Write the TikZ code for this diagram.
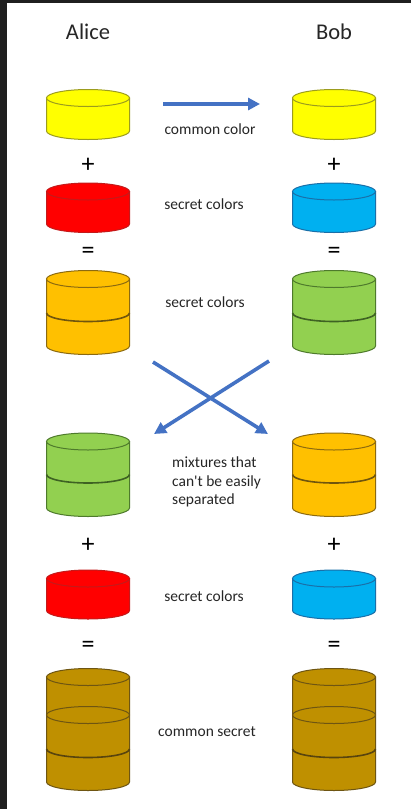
\documentclass[tikz,border=0pt]{standalone}
\usepackage{fontspec}
\setmainfont{Carlito}[Ligatures=TeXOff]
\usetikzlibrary{arrows.meta}
\definecolor{cYel}{HTML}{FFFF00}\definecolor{dYel}{HTML}{9C9C1E}
\definecolor{cRed}{HTML}{FF0000}\definecolor{dRed}{HTML}{C41A1A}
\definecolor{cBlu}{HTML}{00B0F0}\definecolor{dBlu}{HTML}{1A6FA8}
\definecolor{cOra}{HTML}{FFC000}\definecolor{dOra}{HTML}{8C6A10}
\definecolor{cGre}{HTML}{92D050}\definecolor{dGre}{HTML}{4E7A2C}
\definecolor{cBro}{HTML}{BF9000}\definecolor{dBro}{HTML}{6E5512}
\definecolor{arrowblue}{HTML}{4472C4}
\definecolor{frameclr}{HTML}{1F1F1F}
\newcommand\mycyl[5]{%
  \filldraw[fill=#4, draw=#5, line width=1pt] ({#1-41.5},#2) -- ({#1-41.5},#3) arc[start angle=180,end angle=0,x radius=41.5,y radius=8.5] -- ({#1+41.5},#2) -- cycle;
  \filldraw[fill=#4, draw=#5, line width=1pt] (#1,#2) ellipse[x radius=41.5, y radius=8.5];}
\newcommand\mysep[3]{%
  \draw[#3, line width=1.6pt] ({#1-41.5},#2) arc[start angle=180,end angle=0,x radius=41.5,y radius=8.5];}
\tikzset{
  lbl/.style={inner sep=0pt, text=black!85, font=\fontsize{15.5}{18.5}\selectfont},
  sym/.style={inner sep=0pt, font=\fontsize{26}{28}\selectfont},
  who/.style={inner sep=0pt, text=black!85, font=\fontsize{22.5}{26}\selectfont},
  flow/.style={draw=arrowblue, line width=3.6pt, -{Triangle[length=12pt,width=12pt]}}
}
\begin{document}
\begin{tikzpicture}[x=1pt,y=-1pt]
\useasboundingbox (0,0) rectangle (411,809);
\fill[white] (0,0) rectangle (411,809);
\fill[frameclr] (0,0) rectangle (7,809);
\fill[frameclr] (0,0) rectangle (411,3);

\node[who] (alice) at (88,32) {Alice};
\node[who] (bob) at (334,32) {Bob};

% row 1
\mycyl{88}{98}{131}{cYel}{dYel}
\mycyl{334}{98}{131}{cYel}{dYel}
\coordinate (a1) at (163,104);
\coordinate (b1) at (260,104);
\draw[flow] (a1) -- (b1);
\node[lbl] (t1) at (210,129) {common color};

\node[sym] (p1) at (88,165) {+};
\node[sym] (p2) at (334,165) {+};

% row 2
\mycyl{88}{191.5}{224}{cRed}{dRed}
\mycyl{334}{191.5}{224}{cBlu}{dBlu}
\node[lbl] (t2) at (204,204) {secret colors};

\node[sym] (e1) at (88,253) {=};
\node[sym] (e2) at (334,253) {=};

% row 3
\mycyl{88}{279}{346}{cOra}{dOra}
\mysep{88}{313}{dOra!80!black}
\mycyl{334}{279}{346}{cGre}{dGre}
\mysep{334}{313}{dGre!80!black}
\node[lbl] (t3) at (205,302) {secret colors};

% cross arrows
\coordinate (x1) at (153,362);
\coordinate (x2) at (268,434);
\coordinate (x3) at (269,361);
\coordinate (x4) at (154,434);
\draw[flow] (x1) -- (x2);
\draw[flow] (x3) -- (x4);

% row 4
\mycyl{88}{441.5}{508}{cGre}{dGre}
\mysep{88}{474.5}{dGre!80!black}
\mycyl{334}{441.5}{508}{cOra}{dOra}
\mysep{334}{474.5}{dOra!80!black}
\node[lbl, anchor=west, align=left] (t4) at (172,482) {mixtures that\\can't be easily\\separated};

\node[sym] (p3) at (88,545) {+};
\node[sym] (p4) at (334,545) {+};

% row 5
\mycyl{88}{578.5}{610.5}{cRed}{dRed}
\mycyl{334}{578.5}{610.5}{cBlu}{dBlu}
\node[lbl] (t5) at (204,596) {secret colors};

\node[sym] (e3) at (88,647) {=};
\node[sym] (e4) at (334,647) {=};

% row 6
\mycyl{88}{677}{782}{cBro}{dBro}
\draw[dBro, line width=1pt] (88,715) ellipse[x radius=41.5, y radius=8.5];
\mysep{88}{749}{dBro!80!black}
\mycyl{334}{677}{782}{cBro}{dBro}
\draw[dBro, line width=1pt] (334,715) ellipse[x radius=41.5, y radius=8.5];
\mysep{334}{749}{dBro!80!black}
\node[lbl] (t6) at (207,732) {common secret};
\end{tikzpicture}
\end{document}
